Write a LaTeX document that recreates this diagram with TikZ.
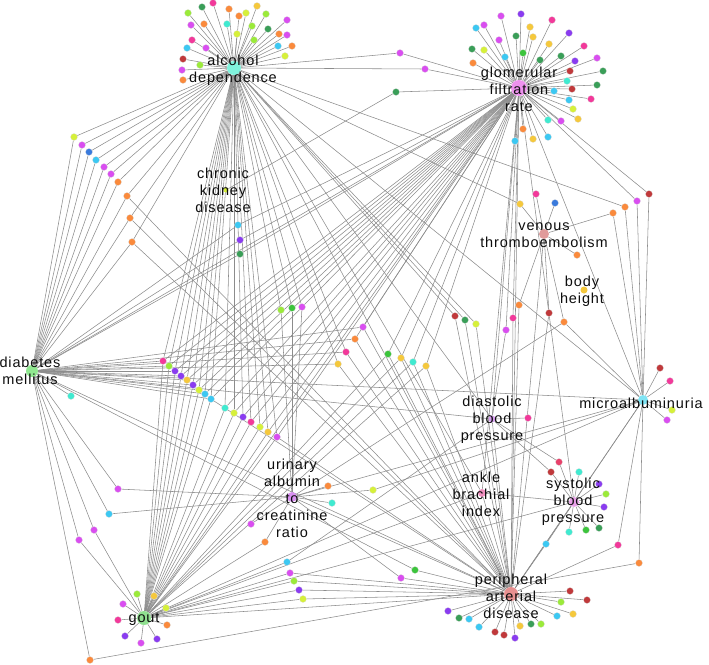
\documentclass[tikz,border=0pt]{standalone}
\usepackage{fontspec}
\setmainfont{Liberation Sans}[LetterSpace=6]
\definecolor{clm}{HTML}{9BEA3A}
\definecolor{cgr}{HTML}{3A9E58}
\definecolor{cgn}{HTML}{3CC43C}
\definecolor{cpk}{HTML}{F2399A}
\definecolor{cmg}{HTML}{D94EF0}
\definecolor{cor}{HTML}{FA8A3C}
\definecolor{cyl}{HTML}{D6F03A}
\definecolor{cye}{HTML}{F5C83C}
\definecolor{ccy}{HTML}{3CC8F2}
\definecolor{caq}{HTML}{40EAD0}
\definecolor{crd}{HTML}{C0393B}
\definecolor{cvi}{HTML}{8A3CF0}
\definecolor{cbl}{HTML}{3A7ADC}
\definecolor{crp}{HTML}{E8406A}
\definecolor{hAD}{HTML}{80F2DC}
\definecolor{hGFR}{HTML}{EE92EE}
\definecolor{hVTE}{HTML}{E09A9A}
\definecolor{hDM}{HTML}{90E890}
\definecolor{hMA}{HTML}{80E4F4}
\definecolor{hDBP}{HTML}{D8A0F0}
\definecolor{hUA}{HTML}{D890F0}
\definecolor{hABI}{HTML}{F090C0}
\definecolor{hSBP}{HTML}{E8A0E8}
\definecolor{hPAD}{HTML}{E89090}
\definecolor{hGT}{HTML}{90E090}
\pgfdeclarelayer{edges}
\pgfsetlayers{edges,main}
\begin{document}
\begin{tikzpicture}[x=1pt,y=-1pt,
  dot/.style={circle,inner sep=0pt,minimum size=7pt,draw=black!12,line width=0.3pt},
  hub/.style={circle,inner sep=0pt,draw=none},
  edge/.style={draw=black!45,line width=0.55pt},
  lab/.style={align=center,font=\fontsize{14.5}{17}\selectfont,inner sep=0pt,text=black!95}]
\useasboundingbox (0,0) rectangle (709,664);
% hubs
\node[hub,fill=hAD,minimum size=14pt] (AD) at (234,68) {};
\node[hub,fill=hGFR,minimum size=16pt] (GFR) at (519,88) {};
\node[hub,fill=cyl,minimum size=5pt] (CKD) at (226,190) {};
\node[hub,fill=hVTE,minimum size=10pt] (VTE) at (544,234) {};
\node[hub,fill=cye,minimum size=7pt] (BH) at (584,290) {};
\node[hub,fill=hDM,minimum size=12pt] (DM) at (32,371) {};
\node[hub,fill=hMA,minimum size=10pt] (MA) at (643,400) {};
\node[hub,fill=hDBP,minimum size=7pt] (DBP) at (492,419) {};
\node[hub,fill=hUA,minimum size=10pt] (UA) at (292,497) {};
\node[hub,fill=hABI,minimum size=8pt] (ABI) at (482,493) {};
\node[hub,fill=hSBP,minimum size=10pt] (SBP) at (574,502) {};
\node[hub,fill=hPAD,minimum size=14pt] (PAD) at (511,594) {};
\node[hub,fill=hGT,minimum size=14pt] (GT) at (144,618) {};
% dots
\foreach \n/\x/\y/\c in {
 a1/188/13/clm,a2/202/7/cgr,a3/213/3/cpk,a4/229/9/cor,a5/239/16/cor,a6/246/13/cyl,a7/257/6/cye,
 a8/266/14/clm,a9/191/25/cmg,a10/204/24/cor,a11/227/24/caq,a12/252/26/clm,a13/268/29/cgr,
 a14/287/20/cmg,a15/237/34/cyl,a16/192/40/cpk,a17/206/48/cmg,a18/254/40/clm,a19/279/34/cor,
 a20/287/35/cmg,a21/278/46/ccy,a22/292/46/cor,a23/187/48/ccy,a24/285/56/cyl,a25/183/59/crd,
 a26/200/65/clm,a27/182/70/cmg,a28/183/80/cor,
 g1/521/14/cvi,g2/501/16/cmg,g3/484/25/cmg,g4/476/28/ccy,g5/552/20/cpk,g6/530/27/cye,g7/533/37/cye,
 g8/516/36/cgr,g9/499/40/cmg,g10/569/33/cvi,g11/549/44/cye,g12/584/46/cpk,g13/472/49/cgr,
 g14/484/50/cyl,g15/505/57/ccy,g16/523/53/cgn,g17/540/60/cgr,g18/561/56/cgr,g19/575/61/cvi,
 g20/597/58/cmg,g21/473/63/cor,g22/570/71/crd,g23/603/71/cgr,g24/567/81/caq,g25/572/89/crd,
 g26/597/85/cgr,g27/554/91/ccy,g28/569/100/ccy,g29/591/99/cpk,g30/573/109/cyl,g31/578/119/cye,
 g32/548/120/caq,g33/561/121/cmg,g34/523/129/cor,g35/515/141/ccy,g36/533/139/cye,g37/548/137/ccy,
 L1/74/137/cyl,L2/82/145/cmg,L3/89/152/cbl,L4/96/160/ccy,L5/104/167/cmg,L6/111/174/cmg,
 L7/118/182/cor,L8/127/196/cor,L9/130/218/cor,L10/132/242/cor,
 k1/238/225/ccy,k2/240/240/cvi,k3/240/254/cgr,
 u1/281/310/clm,u2/292/308/cgn,u3/302/307/cmg,
 m1/363/327/cmg,m2/355/339/cor,m3/346/352/cpk,m4/338/364/cye,
 m5/388/354/cgn,m6/401/358/cye,m7/413/362/caq,m8/426/366/cye,
 d1/163/361/cpk,d2/169/366/clm,d3/175/371/cvi,d4/181/376/cvi,d5/187/380/cye,d6/193/385/cvi,
 d7/199/390/cyl,d8/205/394/ccy,d9/211/399/ccy,d10/225/408/caq,d11/234/413/cyl,d12/243/417/cvi,
 d13/251/422/cpk,d14/260/427/cyl,d15/268/432/cye,d16/277/437/cmg,
 v1/520/204/cye,v2/536/194/cpk,v3/555/203/cbl,v4/577/255/cor,
 r1/613/213/cor,r2/625/207/cor,r3/637/201/cmg,r4/649/194/crd,
 w1/455/316/crd,w2/465/320/cgr,w3/476/324/cyl,w4/513/318/cpk,w5/506/330/cmg,w6/519/305/cor,
 w7/549/313/crd,w8/564/322/cor,
 ma1/660/368/crd,ma2/670/381/cpk,ma3/672/410/cyl,ma4/667/420/cmg,
 db1/528/418/cpk,
 s1/559/462/crp,s2/551/472/crd,s3/579/472/caq,s4/599/484/cvi,s5/606/494/clm,s6/604/507/cvi,
 s7/569/532/caq,s8/586/530/cgn,s9/599/528/cgr,s10/546/544/ccy,
 p1/618/545/cpk,p2/639/563/cor,
 p3/570/591/crd,p4/587/600/crd,p5/561/602/clm,p6/573/614/cye,p7/557/616/ccy,p8/541/624/clm,
 p9/531/624/cgr,p10/520/626/cye,p11/515/638/cvi,p12/504/635/crd,p13/495/632/crd,p14/479/627/ccy,
 p15/469/619/ccy,p16/459/618/cgr,p17/448/611/cvi,
 uc1/328/486/cor,uc2/373/490/cyl,uc3/332/503/caq,uc4/251/524/cmg,uc5/265/542/cor,
 q1/287/562/ccy,q2/290/573/cmg,q3/294/581/clm,q4/299/590/cvi,q5/303/599/cyl,q6/401/578/cmg,q7/415/570/cgn,
 e1/118/489/cmg,e2/109/514/ccy,e3/94/530/cmg,e4/79/540/cmg,e5/90/660/cor,e6/71/396/caq,
 t1/137/594/clm,t2/123/604/cmg,t3/118/620/cpk,t4/125/636/cvi,t5/141/643/cmg,t6/157/639/cvi,
 t7/167/625/cor,t8/154/596/cye,t9/166/608/cyl,
 x1/400/53/cmg,x2/425/69/cmg,x3/396/92/cgr}
 \node[dot,fill=\c] (\n) at (\x,\y) {};
% edges
\begin{pgfonlayer}{edges}
\foreach \h/\ds in {
 AD/{a1,a2,a3,a4,a5,a6,a7,a8,a9,a10,a11,a12,a13,a14,a15,a16,a17,a18,a19,a20,a21,a22,a23,a24,a25,a26,a27,a28,
     L1,L2,L3,L4,L5,L6,L7,L8,L9,L10,u1,u2,u3,m3,m4,d1,d2,d3,d4,d5,d6,d7,d8,d9,d10,d11,d12,d13,d14,d15,d16,
     w1,w2,w3,v1,r2,x1,x2,PAD,MA,DBP,ABI},
 GFR/{g1,g2,g3,g4,g5,g6,g7,g8,g9,g10,g11,g12,g13,g14,g15,g16,g17,g18,g19,g20,g21,g22,g23,g24,g25,g26,g27,
      g28,g29,g30,g31,g32,g33,g34,g35,g36,g37,k1,k2,k3,m1,m2,m5,m6,m7,m8,d1,d2,d3,d4,d5,d6,d7,d8,d9,d10,d11,
      d12,d13,d14,d15,d16,w4,w5,r3,r4,x1,x2,x3,MA,PAD,DBP,SBP,ABI,GT,DM},
 DM/{L1,L2,L3,L4,L5,L6,L7,L8,L9,L10,k1,k2,k3,m1,m2,m3,m4,d1,d2,d3,d4,d5,d6,d7,d8,d9,e1,e2,e3,e4,e5,e6,q7,MA,DBP,PAD},
 GT/{d1,d2,d3,d4,d5,d6,d7,d8,d9,d10,d11,d12,d13,d14,d15,d16,m5,m6,m7,m8,uc5,e3,e4,q1,q2,q3,q4,q5,
     t1,t2,t3,t4,t5,t6,t7,t8,t9,PAD,SBP,MA,ABI},
 PAD/{L8,L9,L10,m1,m2,m3,m4,m5,m6,m7,m8,d9,d16,
      w1,w2,w3,w4,w6,w7,q2,q3,q4,q5,q6,q7,s10,p1,p3,p4,p5,p6,p7,p8,p9,p10,p11,p12,p13,p14,p15,p16,p17,
      UA,ABI,DBP,SBP,VTE,MA},
 UA/{u1,u2,u3,uc1,uc2,uc3,uc4,uc5,e1,e2,q6,w8,MA},
 VTE/{v1,v2,v3,v4,r1,w6,w7,w8},
 MA/{r1,r2,r3,r4,ma1,ma2,ma3,ma4,p1,p2,uc2,w8,SBP},
 DBP/{w5,db1,s1,s2,q1},
 SBP/{s1,s2,s3,s4,s5,s6,s7,s8,s9,s10,ABI},
 CKD/{x3},
 e5/{p2}}
 { \foreach \d in \ds { \draw[edge] (\h) -- (\d); } }
\end{pgfonlayer}
% labels
\node[lab] (lAD) at (233,70) {alcohol\\dependence};
\node[lab] (lGFR) at (519,89) {glomerular\\filtration\\rate};
\node[lab] (lCKD) at (223,190) {chronic\\kidney\\disease};
\node[lab] (lVTE) at (544,235) {venous\\thromboembolism};
\node[lab] (lBH) at (582,291) {body\\height};
\node[lab] (lDM) at (30,371) {diabetes\\mellitus};
\node[lab] (lMA) at (641,403) {microalbuminuria};
\node[lab] (lDBP) at (492,420) {diastolic\\blood\\pressure};
\node[lab] (lUA) at (292,498) {urinary\\albumin\\to\\creatinine\\ratio};
\node[lab] (lABI) at (481,494) {ankle\\brachial\\index};
\node[lab] (lSBP) at (573,502) {systolic\\blood\\pressure};
\node[lab] (lPAD) at (511,596) {peripheral\\arterial\\disease};
\node[lab] (lGT) at (144,619) {gout};
\end{tikzpicture}
\end{document}
